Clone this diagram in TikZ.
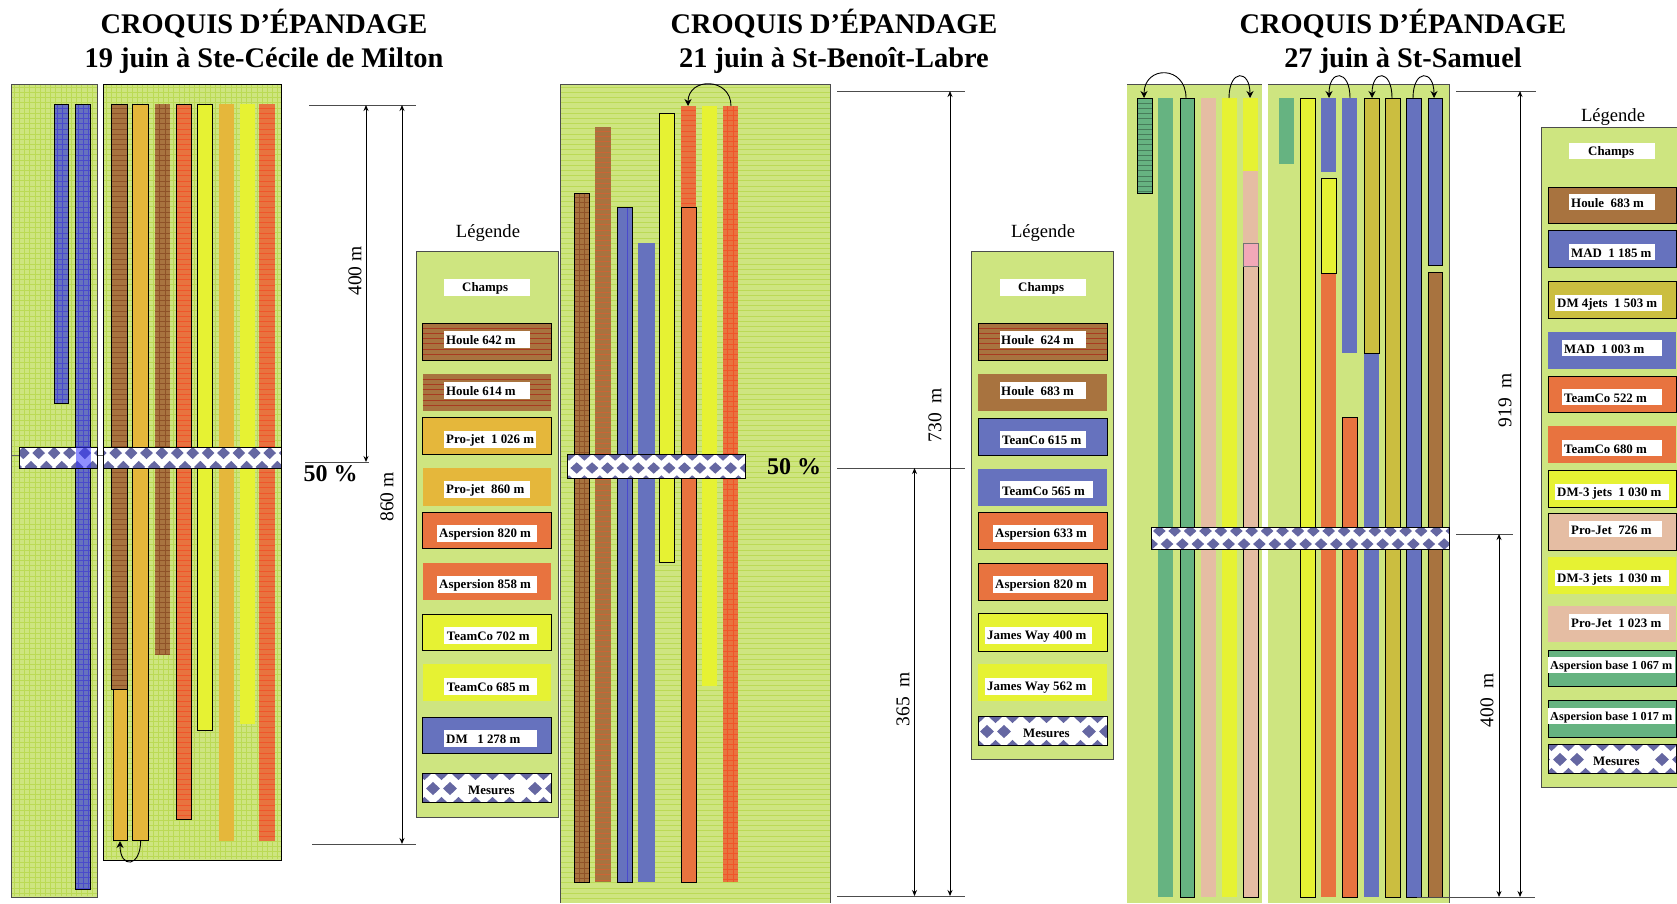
\documentclass[tikz,border=0pt]{standalone}
\usepackage{fontspec}
\setmainfont{Liberation Serif}
\usetikzlibrary{arrows.meta}

\definecolor{champgreen}{HTML}{CEE580}
\definecolor{gridgreen}{HTML}{BBDA55}
\definecolor{stripbrown}{HTML}{A8733F}
\definecolor{stripgold}{HTML}{E5B73B}
\definecolor{striporange}{HTML}{E8733F}
\definecolor{stripyellow}{HTML}{E6F233}
\definecolor{stripblue}{HTML}{6672BE}
\definecolor{stripolive}{HTML}{CBBE40}
\definecolor{stripbeige}{HTML}{E5BDA3}
\definecolor{stripgreen}{HTML}{66B381}
\definecolor{strippink}{HTML}{F2A8B8}
\definecolor{mesblue}{HTML}{6567A2}
\definecolor{linebrown}{HTML}{8F5228}
\definecolor{linered}{HTML}{F0552A}
\definecolor{lineblue}{HTML}{4A4ACC}
\definecolor{lineclay}{HTML}{A83A20}

\tikzset{
  framed/.style={draw=black,line width=.9pt},
  plain/.style={},
  greyframe/.style={draw=black!55,line width=.9pt},
  panelframe/.style={draw=black!70,line width=.9pt},
  tick/.style={draw=black!70,line width=.9pt},
  dimarrow/.style={draw=black,line width=1pt,{Stealth[length=6pt,width=5pt]}-{Stealth[length=6pt,width=5pt]}},
  turnarrow/.style={draw=black,line width=.9pt,-{Stealth[length=7pt,width=7pt]}},
  titletext/.style={font=\fontsize{28.4}{30}\selectfont\bfseries,inner sep=0pt},
  dimtext/.style={font=\fontsize{19.5}{21}\selectfont,rotate=90,inner sep=0pt},
  pcttext/.style={font=\fontsize{24}{26}\selectfont\bfseries,inner sep=0pt},
  legendtitle/.style={font=\fontsize{18.6}{20}\selectfont,inner sep=0pt},
  legtext/.style={font=\fontsize{12.9}{14}\selectfont\bfseries,anchor=west,inner sep=0pt,yshift=-1.5pt}
}

\newcommand{\hlines}[5]{%
  \pgfmathsetmacro{\ynext}{#3+5.2}%
  \draw[#5,line width=.35pt] foreach \yy in {#3,\ynext,...,#4} {(#1,\yy) -- (#2,\yy)};
}
\newcommand{\vlines}[5]{%
  \pgfmathsetmacro{\xnext}{#1+5.2}%
  \draw[#5,line width=.35pt] foreach \xx in {#1,\xnext,...,#2} {(\xx,#3) -- (\xx,#4)};
}
\newcommand{\mesdiam}[4]{%
  \fill[mesblue] ({#1},{#2}) ++(-#3,0) -- ++(#3,-#4) -- ++(#3,#4) -- ++(-#3,#4) -- cycle;
}
% x1 y1 x2 y2, then first diamond and lattice steps
\newcommand{\mesband}[8]{%
  \begin{scope}
    \clip (#1,#2) rectangle (#3,#4);
    \fill[white] (#1,#2) rectangle (#3,#4);
    \pgfmathsetmacro{\hw}{.41*#7}
    \pgfmathsetmacro{\hh}{.44*#8}
    \foreach \i in {-1,...,28} {
      \mesdiam{#5+\i*#7}{#6}{\hw}{\hh}
      \mesdiam{#5+\i*#7}{#6+2*#8}{\hw}{\hh}
      \mesdiam{#5+\i*#7+.5*#7}{#6-#8}{\hw}{\hh}
      \mesdiam{#5+\i*#7+.5*#7}{#6+#8}{\hw}{\hh}
    }
  \end{scope}
  \draw[framed] (#1,#2) rectangle (#3,#4);
}

\begin{document}
\begin{tikzpicture}[x=1pt,y=-1pt]
  \useasboundingbox (0,0) rectangle (1677,903);

  % titles
  \node[titletext] (title1a) at (264,24) {CROQUIS D’ÉPANDAGE};
  \node[titletext] (title1b) at (264,61) {19 juin à Ste-Cécile de Milton};
  \node[titletext] (title2a) at (834,24) {CROQUIS D’ÉPANDAGE};
  \node[titletext] (title2b) at (834,61) {21 juin à St-Benoît-Labre};
  \node[titletext] (title3a) at (1403,24) {CROQUIS D’ÉPANDAGE};
  \node[titletext] (title3b) at (1403,61) {27 juin à St-Samuel};

  % first field
  \fill[champgreen] (11.5,84) rectangle (97,897);
  \fill[champgreen] (103.5,84) rectangle (281.5,860);
  \vlines{14}{96}{85}{896}{gridgreen}
  \hlines{11.5}{97}{87}{896}{gridgreen}
  \vlines{106}{281}{85}{859}{gridgreen}
  \hlines{103.5}{281.5}{87}{859}{gridgreen}
  \draw[panelframe] (11.5,84) rectangle (97,897);
  \draw[framed] (103.5,84) rectangle (281.5,860);
  \foreach \xa/\xb/\ya/\yb/\col/\fr in {
    54.5/68.5/104/403/stripblue/framed, 75.5/90.5/104/889/stripblue/framed,
    111/127/104/689/stripbrown/framed, 113/127/689/840/stripgold/framed,
    132/148/104/840/stripgold/framed, 155/170/104/655/stripbrown/plain,
    176.5/191/104/819/striporange/framed, 197.5/212/104/730/stripyellow/framed,
    219/234/104/841/stripgold/plain, 240/255/104/724/stripyellow/plain,
    259/275/104/841/striporange/plain} {
    \path[fill=\col,\fr] (\xa,\ya) rectangle (\xb,\yb);
  }
  \hlines{55}{68}{108}{403}{lineblue}
  \vlines{57}{67}{104.5}{402.5}{lineblue}
  \hlines{76}{90}{108}{888}{lineblue}
  \vlines{78}{89}{104.5}{888.5}{lineblue}
  \hlines{111.5}{126.5}{108}{688}{linebrown}
  \hlines{155}{170}{108}{654}{linebrown}
  \draw[linebrown,line width=.35pt] (159.5,104) -- (159.5,655) (165.5,104) -- (165.5,655);
  \hlines{177}{190.5}{108}{818}{linered}
  \hlines{259}{275}{108}{840}{linered}
  \draw[black!60,line width=.5pt] (11.5,455) -- (19,455) (97,455) -- (103.5,455);
  \mesband{19}{447}{97}{468}{23.3}{453}{15.4}{14}
  \mesband{103.5}{447}{281.5}{468}{115.7}{453}{15.4}{14}
  \fill[blue!80,opacity=.55] (75.5,447) rectangle (90.5,468);
  \coordinate (turn1from) at (140.7,840);
  \coordinate (turn1to) at (120,841);
  \draw[turnarrow] (turn1from) .. controls +(0,28) and +(0,28) .. (turn1to);

  % first field, distances
  \coordinate (d1l) at (309,105);
  \coordinate (d1r) at (416,105);
  \coordinate (m1l) at (305,462);
  \coordinate (m1r) at (369,462);
  \coordinate (b1l) at (312,844);
  \coordinate (b1r) at (416,844);
  \coordinate (a1top) at (366,105);
  \coordinate (a1mid) at (366,462);
  \coordinate (c1top) at (402,105);
  \coordinate (c1bot) at (402,844);
  \draw[tick] (d1l) -- (d1r);
  \draw[tick] (m1l) -- (m1r);
  \draw[tick] (b1l) -- (b1r);
  \draw[dimarrow] (a1top) -- (a1mid);
  \draw[dimarrow] (c1top) -- (c1bot);
  \node[dimtext] (len1a) at (355,271) {400 m};
  \node[dimtext] (len1b) at (387,497) {860 m};
  \node[pcttext] (pct1) at (330.5,474) {50 \%};

  % first legend
  \node[legendtitle] (leg1title) at (488,233) {Légende};
  \path[fill=champgreen,panelframe] (416,251) rectangle (558,817);
  \foreach \ya/\yb/\col/\fr/\xa/\xb/\yl/\tx/\lab [count=\n] in {
    0/0/champgreen/plain/444/530/287/462/Champs,
    323/360/stripbrown/framed/444/530/339/446/Houle 642 m,
    374/411/stripbrown/plain/444/530/390/446/Houle 614 m,
    417.5/454.6/stripgold/framed/444/536/439/446/Pro-jet\ \ 1 026 m,
    468/505.5/stripgold/plain/444/530/489/446/Pro-jet\ \ 860 m,
    512/548/striporange/framed/437/537/533/439/Aspersion 820 m,
    563/600/striporange/plain/437/537/584/439/Aspersion 858 m,
    614/650/stripyellow/framed/444/537/635/446.7/TeamCo 702 m,
    664/701/stripyellow/plain/444/537/686/446.7/TeamCo 685 m,
    717/753.5/stripblue/framed/444/537/738/446/DM\ \ \ 1 278 m} {
    \ifdim\yb pt>0pt
      \path[fill=\col,\fr] (422.7,\ya) rectangle (551,\yb);
    \fi
    \ifnum\n=2 \hlines{423.2}{550.5}{328}{358}{lineclay}\fi
    \ifnum\n=3 \hlines{422.7}{551}{379}{408}{lineclay}\fi
    \fill[white] (\xa,\yl-8.5) rectangle (\xb,\yl+8.5);
    \node[legtext] (leg1\n) at (\tx,\yl) {\lab};
  }
  \mesband{422.7}{773}{551}{802.5}{433}{788.5}{17}{15}
  \fill[white] (458,780) rectangle (526,797);
  \node[legtext] (leg1mes) at (468,788.5) {Mesures};

  % second field
  \fill[champgreen] (560,84) rectangle (830,903);
  \hlines{560}{830}{87}{903}{gridgreen}
  \draw[panelframe] (560,903) -- (560,84) -- (830,84) -- (830,903);
  \foreach \xa/\xb/\ya/\yb/\col/\fr in {
    574/589/193/882/stripbrown/framed, 595/611/127/882/stripbrown/plain,
    617/632/207.5/882/stripblue/framed, 638/655/243/882/stripblue/plain,
    659/674/113/562.5/stripyellow/framed, 681/696/106/207.5/striporange/plain,
    681/696/207.5/882/striporange/framed, 702/717/106/685.5/stripyellow/plain,
    723/738/106/882/striporange/plain} {
    \path[fill=\col,\fr] (\xa,\ya) rectangle (\xb,\yb);
  }
  \hlines{574.5}{588.5}{197}{881}{linebrown}
  \draw[linebrown,line width=.35pt] (579,193.5) -- (579,881.5) (584,193.5) -- (584,881.5);
  \hlines{595}{611}{131}{881}{linered!50!stripbrown}
  \draw[lineblue,line width=.35pt] (627,208) -- (627,881.5);
  \hlines{681}{696}{110}{207}{linered}
  \hlines{723}{738}{110}{881}{linered}
  \draw[linered,line width=.35pt] (727.5,106) -- (727.5,882) (733,106) -- (733,882);
  \mesband{567}{454}{745}{478}{576.7}{468}{15.4}{13}
  \coordinate (turn2from) at (731,106);
  \coordinate (turn2to) at (688,106);
  \draw[turnarrow] (turn2from) .. controls +(0,-29) and +(0,-29) .. (turn2to);
  \node[pcttext] (pct2) at (794,467) {50 \%};

  % second field, distances
  \coordinate (d2l) at (837,91);
  \coordinate (d2r) at (965,91);
  \coordinate (m2l) at (837,468);
  \coordinate (m2r) at (965,468);
  \coordinate (b2l) at (837,896);
  \coordinate (b2r) at (965,896);
  \coordinate (a2top) at (950,91);
  \coordinate (a2bot) at (950,896);
  \coordinate (c2top) at (914.5,468);
  \coordinate (c2bot) at (914.5,896);
  \draw[tick] (d2l) -- (d2r);
  \draw[tick] (m2l) -- (m2r);
  \draw[tick] (b2l) -- (b2r);
  \draw[dimarrow] (a2top) -- (a2bot);
  \draw[dimarrow] (c2top) -- (c2bot);
  \node[dimtext] (len2a) at (935,415) {730\ \ m};
  \node[dimtext] (len2b) at (903,699) {365\ \ m};

  % second legend
  \node[legendtitle] (leg2title) at (1043,233) {Légende};
  \path[fill=champgreen,panelframe] (971,251) rectangle (1113.7,759);
  \foreach \ya/\yb/\col/\fr/\xa/\xb/\yl/\tx/\lab [count=\n] in {
    0/0/champgreen/plain/1000/1086/287/1018/Champs,
    323.5/360/stripbrown/framed/1000/1086/339/1001/Houle\ \ 624 m,
    374/411/stripbrown/plain/1000/1086/390/1001/Houle\ \ 683 m,
    418/455/stripblue/framed/1000/1086/439/1002/TeanCo 615 m,
    468.5/506/stripblue/plain/1000/1093/489.5/1002/TeamCo 565 m,
    512/549/striporange/framed/993/1093/533/995/Aspersion 633 m,
    563/600/striporange/framed/993/1093/584/995/Aspersion 820 m,
    613.5/651/stripyellow/framed/985/1092/635/987/James Way 400 m,
    664/701/stripyellow/plain/985/1092/686/987/James Way 562 m} {
    \ifdim\yb pt>0pt
      \path[fill=\col,\fr] (978,\ya) rectangle (1107,\yb);
    \fi
    \ifnum\n=2 \hlines{978.5}{1106.5}{328}{358}{lineclay}\fi
    \fill[white] (\xa,\yl-8.5) rectangle (\xb,\yl+8.5);
    \node[legtext] (leg2\n) at (\tx,\yl) {\lab};
  }
  \mesband{978}{716}{1107}{745}{987}{731.5}{17}{15}
  \fill[white] (1013,723) rectangle (1080,740);
  \node[legtext] (leg2mes) at (1023,731.5) {Mesures};

  % third field
  \fill[champgreen] (1127,84) rectangle (1262,903);
  \fill[champgreen] (1268,84) rectangle (1449.7,903);
  \draw[panelframe] (1127,84) -- (1262,84);
  \draw[panelframe] (1268,84) -- (1449.7,84) -- (1449.7,903);
  \foreach \xa/\xb/\ya/\yb/\col/\fr in {
    1137/1152/98/193/stripgreen/framed, 1158/1173/98/897/stripgreen/plain,
    1180/1194/98/897/stripgreen/framed, 1201/1216/98/897/stripbeige/plain,
    1222/1237/98/897/stripyellow/plain, 1243/1258/98/171/stripyellow/plain,
    1243/1258/171/243/stripbeige/plain, 1243/1258/266/897/stripbeige/framed,
    1243/1258/243/266/strippink/greyframe, 1279/1294/98/164/stripgreen/plain,
    1300/1315/98/897/stripyellow/framed, 1321/1336/98/172/stripblue/plain,
    1321/1336/273/897/striporange/plain, 1321/1336/178/273/stripyellow/framed,
    1342/1357/98/353/stripblue/plain, 1342/1357/417/897/striporange/framed,
    1364/1379/353/897/stripblue/plain, 1364/1379/98/353/stripolive/framed,
    1385/1400/98/897/stripolive/framed, 1406/1421/98/897/stripblue/framed,
    1428/1442/98/265/stripblue/framed, 1428/1442/272/897/stripbrown/framed} {
    \path[fill=\col,\fr] (\xa,\ya) rectangle (\xb,\yb);
  }
  \hlines{1137.5}{1151.5}{103}{192}{stripgreen!70!black}
  \mesband{1151}{527}{1449}{549}{1159.3}{531}{15.4}{13}
  \coordinate (turn3afrom) at (1186,98);
  \coordinate (turn3ato) at (1144,98);
  \coordinate (turn3bfrom) at (1229,98);
  \coordinate (turn3bto) at (1250,98);
  \coordinate (turn3cfrom) at (1350,98);
  \coordinate (turn3cto) at (1329,98);
  \coordinate (turn3dfrom) at (1392,98);
  \coordinate (turn3dto) at (1372,98);
  \coordinate (turn3efrom) at (1413,98);
  \coordinate (turn3eto) at (1434,98);
  \draw[turnarrow] (turn3afrom) .. controls +(0,-33) and +(0,-33) .. (turn3ato);
  \foreach \s in {b,c,d,e} {
    \draw[turnarrow] (turn3\s from) .. controls +(0,-29) and +(0,-29) .. (turn3\s to);
  }

  % third field, distances
  \coordinate (d3l) at (1456,91);
  \coordinate (d3r) at (1536,91);
  \coordinate (m3l) at (1456,534);
  \coordinate (m3r) at (1513,534);
  \coordinate (b3l) at (1417,897);
  \coordinate (b3r) at (1535,897);
  \coordinate (a3top) at (1520,91);
  \coordinate (a3bot) at (1520,897);
  \coordinate (c3top) at (1499,534);
  \coordinate (c3bot) at (1499,897);
  \draw[tick] (d3l) -- (d3r);
  \draw[tick] (m3l) -- (m3r);
  \draw[tick] (b3l) -- (b3r);
  \draw[dimarrow] (a3top) -- (a3bot);
  \draw[dimarrow] (c3top) -- (c3bot);
  \node[dimtext] (len3a) at (1505,400) {919\ \ m};
  \node[dimtext] (len3b) at (1487,700) {400\ \ m};

  % third legend
  \node[legendtitle] (leg3title) at (1613,117) {Légende};
  \fill[champgreen] (1541.3,127.7) rectangle (1677,787.5);
  \draw[panelframe] (1677,127.7) -- (1541.3,127.7) -- (1541.3,787.5) -- (1677,787.5);
  \foreach \ya/\yb/\col/\fr/\xa/\xb/\yl/\tx/\lab [count=\n] in {
    0/0/champgreen/plain/1569/1655/151/1588/Champs,
    187/223.6/stripbrown/framed/1569/1655/202/1571/Houle\ \ 683 m,
    230/267/stripblue/framed/1569/1655/252/1571/MAD\ \ 1 185 m,
    281/318/stripolive/framed/1555/1662/303/1557/DM 4jets\ \ 1 503 m,
    332/369/stripblue/plain/1562/1662/348/1564/MAD\ \ 1 003 m,
    376/412.5/striporange/framed/1562/1662/397/1564/TeamCo 522 m,
    426/463/striporange/plain/1562/1662/448/1564/TeamCo 680 m,
    470/507/stripyellow/framed/1555/1669/492/1557/DM-3 jets\ \ 1 030 m,
    513/550/stripbeige/framed/1569/1662/529/1571/Pro-Jet\ \ 726 m,
    557/594/stripyellow/plain/1555/1669/578/1557/DM-3 jets\ \ 1 030 m,
    606/642/stripbeige/plain/1569/1669/622/1571/Pro-Jet\ \ 1 023 m,
    650/686.6/stripgreen/framed/1548/1675/665/1550/{\fontsize{12.2}{14}\selectfont Aspersion base 1 067 m},
    700/737/stripgreen/framed/1548/1675/716/1550/{\fontsize{12.2}{14}\selectfont Aspersion base 1 017 m}} {
    \ifdim\yb pt>0pt
      \path[fill=\col,\fr] (1548.3,\ya) rectangle (1676.3,\yb);
    \fi
    \fill[white] (\xa,\yl-8) rectangle (\xb,\yl+8);
    \node[legtext] (leg3\n) at (\tx,\yl) {\lab};
  }
  \mesband{1548.3}{744}{1676.3}{773}{1560}{759.5}{17}{15}
  \fill[white] (1586,751) rectangle (1653,768);
  \node[legtext] (leg3mes) at (1593,759.5) {Mesures};
\end{tikzpicture}
\end{document}
